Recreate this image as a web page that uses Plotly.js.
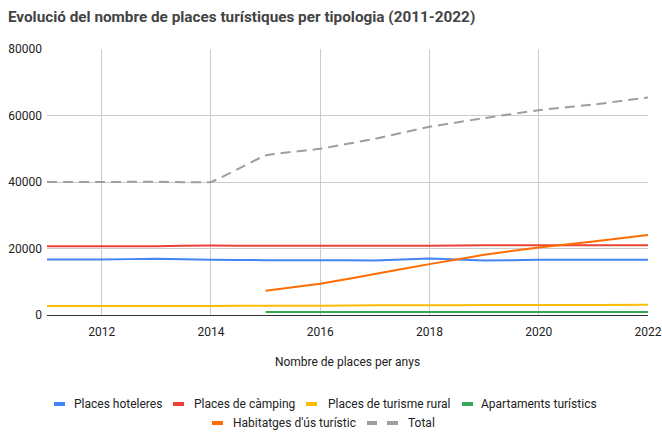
<!DOCTYPE html>
<html>
<head>
<meta charset="utf-8">
<script src="https://cdn.plot.ly/plotly-3.0.1.min.js"></script>
<style>html,body{margin:0;padding:0;background:#fff;}#chart{width:662px;height:432px;}</style>
</head>
<body>
<div id="chart"></div>
<script>
const years = [2011, 2012, 2013, 2014, 2015, 2016, 2017, 2018, 2019, 2020, 2021, 2022];
const placesHoteleres = [16700, 16700, 16900, 16600, 16500, 16500, 16400, 17000, 16400, 16600, 16600, 16600];
const placesCamping = [20700, 20700, 20700, 20900, 20800, 20800, 20800, 20800, 21000, 21000, 21000, 21000];
const placesTurismeRural = [2700, 2700, 2700, 2700, 2800, 2800, 2900, 2900, 3000, 3000, 3000, 3100];
const apartamentsTuristics = [null, null, null, null, 900, 900, 900, 900, 900, 900, 900, 900];
const habitatgesUsTuristic = [null, null, null, null, 7300, 9400, 12300, 15300, 18100, 20300, 22100, 24100];
const total = [40000, 40000, 40100, 40000, 48000, 50000, 53000, 56600, 59200, 61600, 63300, 65400];
const yTicks = [0, 20000, 40000, 60000, 80000];
const xTicks = [2012, 2014, 2016, 2018, 2020, 2022];

const seriesNames = ['Places hoteleres', 'Places de càmping', 'Places de turisme rural', 'Apartaments turístics', "Habitatges d'ús turístic", 'Total'];
const seriesColors = ['#4285F4', '#EA4335', '#FBBC04', '#34A853', '#FF6D01', '#9E9E9E'];
const seriesValues = [placesHoteleres, placesCamping, placesTurismeRural, apartamentsTuristics, habitatgesUsTuristic, total];
const seriesDash = ['solid', 'solid', 'solid', 'solid', 'solid', '10px,6px'];

const W = 662, H = 432;
const M = {l: 47, r: 14, t: 49, b: 117};
const PW = W - M.l - M.r, PH = H - M.t - M.b;
const px = (x) => (x - M.l) / PW;
const py = (y) => (H - M.b - y) / PH;

const data = seriesValues.map((vals, i) => ({
  x: years, y: vals, name: seriesNames[i], type: 'scatter', mode: 'lines',
  line: {color: seriesColors[i], width: 2, shape: 'spline', smoothing: 0.25, dash: seriesDash[i]},
  connectgaps: false, hoverinfo: 'skip', showlegend: false
}));

// custom legend placement (pixel positions of swatch start/end and text start, row y)
const legendPos = [
  {s: [[54, 65]], t: 73, y: 404},
  {s: [[173, 184]], t: 193, y: 404},
  {s: [[306, 317]], t: 327, y: 404},
  {s: [[462, 473]], t: 480, y: 404},
  {s: [[212, 223]], t: 232, y: 423},
  {s: [[367, 377], [387, 398]], t: 407, y: 423}
];
const shapes = [];
const annotations = [];
legendPos.forEach((p, i) => {
  p.s.forEach(seg => {
    shapes.push({type: 'line', xref: 'paper', yref: 'paper',
      x0: px(seg[0]), x1: px(seg[1]), y0: py(p.y), y1: py(p.y),
      line: {color: seriesColors[i], width: 4}});
  });
  annotations.push({xref: 'paper', yref: 'paper', x: px(p.t) , y: py(p.y),
    xanchor: 'left', yanchor: 'middle', showarrow: false, borderpad: 0,
    text: seriesNames[i],
    font: {family: 'Roboto, Arial, sans-serif', size: 12, color: '#222'}});
});

const layout = {
  width: W, height: H,
  margin: {l: M.l, r: M.r, t: M.t, b: M.b, autoexpand: false},
  paper_bgcolor: '#fff', plot_bgcolor: '#fff',
  font: {family: 'Roboto, Arial, sans-serif', size: 12, color: '#222'},
  title: {
    text: 'Evolució del nombre de places turístiques per tipologia (2011-2022)',
    x: 0.012, xanchor: 'left', y: 0.961, yanchor: 'middle',
    font: {family: 'Roboto, Arial, sans-serif', size: 15.3, color: '#444', weight: 'bold'}
  },
  xaxis: {
    range: [2011, 2022], tickvals: xTicks, ticktext: xTicks.map(String),
    showgrid: true, gridcolor: '#cccccc', gridwidth: 1,
    zeroline: false, showline: false, ticks: '', ticklen: 0, ticklabelstandoff: 8,
    tickfont: {family: 'Roboto, Arial, sans-serif', size: 12, color: '#222'},
    title: {text: 'Nombre de places per anys', standoff: 19,
      font: {family: 'Roboto, Arial, sans-serif', size: 12, color: '#222'}}
  },
  yaxis: {
    range: [0, 80000], tickvals: yTicks, ticktext: yTicks.map(String),
    showgrid: true, gridcolor: '#cccccc', gridwidth: 1,
    zeroline: true, zerolinecolor: '#333', zerolinewidth: 1,
    showline: false, ticks: '', ticklen: 0, ticklabelstandoff: 4,
    tickfont: {family: 'Roboto, Arial, sans-serif', size: 12, color: '#222'}
  },
  shapes: shapes,
  annotations: annotations,
  showlegend: false
};

Plotly.newPlot('chart', data, layout, {displayModeBar: false, staticPlot: true});
</script>
</body>
</html>
